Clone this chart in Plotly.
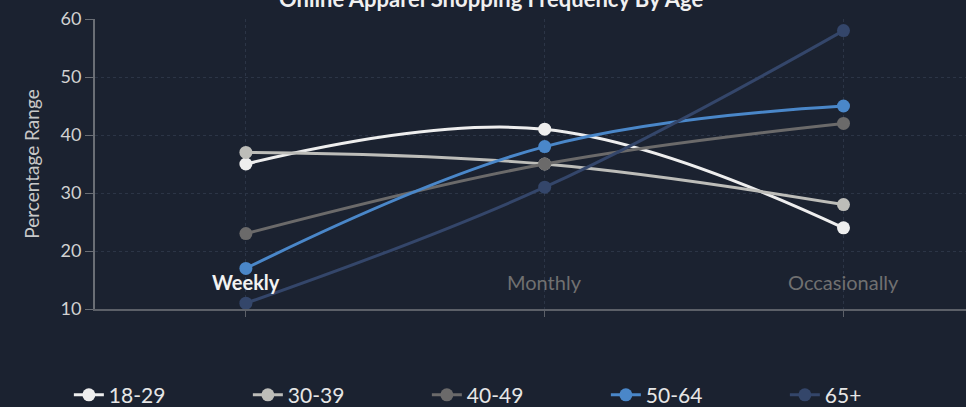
import plotly.graph_objects as go

categories = ["Weekly", "Monthly", "Occasionally"]
series_names = ["18-29", "30-39", "40-49", "50-64", "65+"]
v_18_29 = [35, 41, 24]
v_30_39 = [37, 35, 28]
v_40_49 = [23, 35, 42]
v_50_64 = [17, 38, 45]
v_65_plus = [11, 31, 58]
y_ticks = [10, 20, 30, 40, 50, 60]
title_text = "Online Apparel Shopping Frequency By Age"
y_title = "Percentage Range"

values = [v_18_29, v_30_39, v_40_49, v_50_64, v_65_plus]
colors = ["#eeeeee", "#bdbdb9", "#6b6a6a", "#4a87c9", "#34466a"]

BG = "#1b2230"
FONT = "Lato, 'Open Sans', sans-serif"

fig = go.Figure()
xi = list(range(len(categories)))
for name, vals, col in zip(series_names, values, colors):
    fig.add_trace(go.Scatter(
        x=xi, y=vals, name=name, mode="lines+markers",
        line=dict(color=col, width=3, shape="spline", smoothing=1.1),
        marker=dict(color=col, size=13),
    ))

# category labels drawn inside plot
label_colors = ["#f2f2f2", "#707070", "#707070"]
label_weights = ["bold", "normal", "normal"]
for i, (cat, c, w) in enumerate(zip(categories, label_colors, label_weights)):
    fig.add_annotation(x=i, y=14.7, xref="x", yref="y", text=cat, showarrow=False,
                       font=dict(family=FONT, size=20, color=c, weight=w),
                       xanchor="center", yanchor="middle")

fig.add_annotation(x=0.455, y=1.07, xref="paper", yref="paper", text=title_text,
                   showarrow=False, xanchor="center", yanchor="middle",
                   font=dict(family=FONT, size=22, color="#f0f0f0", weight="bold"))

fig.update_layout(
    width=966, height=407,
    paper_bgcolor=BG, plot_bgcolor=BG,
    margin=dict(l=95, r=0, t=19, b=98, autoexpand=False),
    font=dict(family=FONT, color="#d0d0d0"),
    showlegend=True,
    legend=dict(orientation="h", x=-0.03, xanchor="left", y=-0.297, yanchor="middle",
                font=dict(family=FONT, size=21, color="#e6e6e6"),
                entrywidth=134, entrywidthmode="pixels", itemwidth=30,
                bgcolor="rgba(0,0,0,0)"),
    xaxis=dict(range=[-0.505, 2.41], tickvals=xi, ticktext=categories, showticklabels=False,
               showgrid=True, gridcolor="#2c3546", griddash="dot", gridwidth=1,
               showline=True, linecolor="#5c6068", linewidth=2,
               ticks="outside", ticklen=6, tickcolor="#5c6068", zeroline=False),
    yaxis=dict(range=[10, 60], tickvals=y_ticks, showgrid=True, gridcolor="#2c3546",
               griddash="dot", gridwidth=1, showline=True, linecolor="#6a6e75", linewidth=2,
               ticks="outside", ticklen=8, tickcolor="#6a6e75", zeroline=False,
               tickfont=dict(family=FONT, size=18, color="#d2d2d2"),
               title=dict(text=y_title, font=dict(family=FONT, size=19, color="#c8c8c8"), standoff=16)),
)

fig.write_html("out.html", config={"displayModeBar": False},
               post_script="document.body.style.margin='0';")
